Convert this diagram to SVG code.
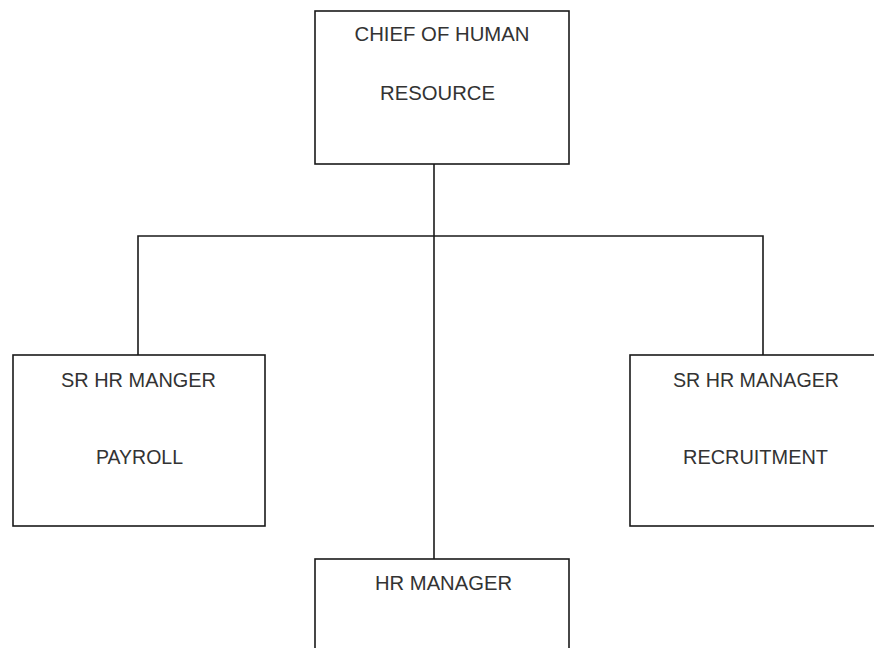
<svg xmlns="http://www.w3.org/2000/svg" width="874" height="648" viewBox="0 0 874 648">
<style>
.box{fill:#fff;stroke:#1a1a1a;stroke-width:1.6}
.ln{fill:none;stroke:#1a1a1a;stroke-width:1.6}
text{font-family:"Liberation Sans",Arial,sans-serif;font-size:19.5px;fill:#333;text-anchor:middle}
</style>
<rect width="874" height="648" fill="#fff"/>
<g id="connectors">
<path class="ln" d="M434 164 V559"/>
<path class="ln" d="M138 355 V236 H763 V355"/>
</g>
<g id="chief">
<rect class="box" x="315" y="11" width="254" height="153"/>
<text x="442" y="40.5" textLength="175" lengthAdjust="spacingAndGlyphs">CHIEF OF HUMAN</text>
<text x="437.5" y="100" textLength="115" lengthAdjust="spacingAndGlyphs">RESOURCE</text>
</g>
<g id="payroll">
<rect class="box" x="13" y="355" width="252" height="171"/>
<text x="138.5" y="386.5" textLength="155" lengthAdjust="spacingAndGlyphs">SR HR MANGER</text>
<text x="139.5" y="464" textLength="87" lengthAdjust="spacingAndGlyphs">PAYROLL</text>
</g>
<g id="recruitment">
<rect class="box" x="630" y="355" width="260" height="171"/>
<text x="756" y="386.5" textLength="166" lengthAdjust="spacingAndGlyphs">SR HR MANAGER</text>
<text x="755.5" y="464" textLength="145" lengthAdjust="spacingAndGlyphs">RECRUITMENT</text>
</g>
<g id="hrmanager">
<rect class="box" x="315" y="559" width="254" height="120"/>
<text x="443.5" y="590" textLength="137" lengthAdjust="spacingAndGlyphs">HR MANAGER</text>
</g>
</svg>
